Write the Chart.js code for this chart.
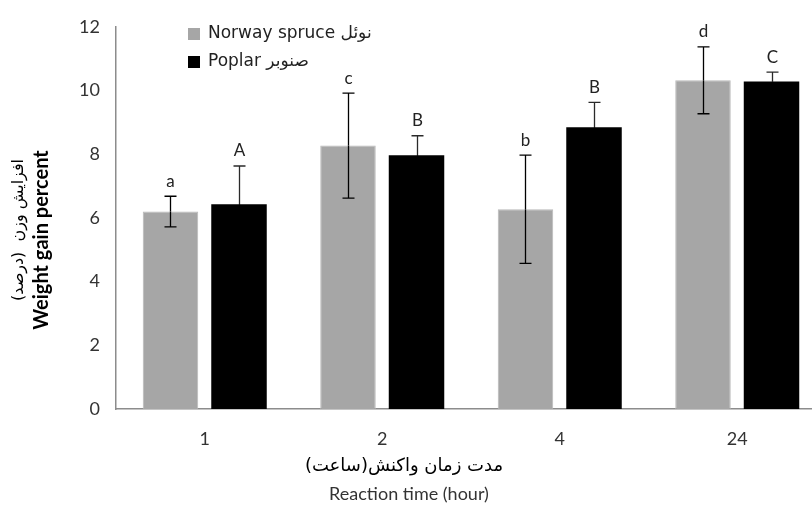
<!DOCTYPE html>
<html>
<head>
<meta charset="utf-8">
<script src="https://cdn.jsdelivr.net/npm/chart.js@4"></script>
<style>
  html, body { margin: 0; padding: 0; background: #fff; overflow: hidden; }
  canvas { display: block; }
</style>
</head>
<body>
<canvas id="c" width="830" height="507"></canvas>
<script>
const categories = ['1', '2', '4', '24'];
const seriesNames = ['Norway spruce نوئل', 'Poplar صنوبر'];
const spruceValues = [6.20, 8.27, 6.27, 10.32];
const spruceErrors = [0.48, 1.65, 1.70, 1.05];
const spruceLetters = ['a', 'c', 'b', 'd'];
const poplarValues = [6.43, 7.97, 8.85, 10.28];
const poplarErrors = [1.20, 0.61, 0.78, 0.30];
const poplarLetters = ['A', 'B', 'B', 'C'];
const yTicks = [0, 2, 4, 6, 8, 10, 12];

const errors = [spruceErrors, poplarErrors];
const letters = [spruceLetters, poplarLetters];
const errColors = ['#000000', '#2a2a2a'];

const MAIN_FONT = 'Lato, "Open Sans", sans-serif';

const overlay = {
  id: 'overlay',
  afterDatasetsDraw(chart) {
    const ctx = chart.ctx;
    const y = chart.scales.y;
    chart.data.datasets.forEach((ds, di) => {
      const meta = chart.getDatasetMeta(di);
      meta.data.forEach((bar, i) => {
        const v = ds.data[i], e = errors[di][i];
        const top = y.getPixelForValue(v + e);
        const mid = y.getPixelForValue(v);
        const bot = y.getPixelForValue(v - e);
        const x = Math.round(bar.x) + 0.5;
        ctx.save();
        ctx.lineWidth = 1.3;
        // upper half
        ctx.strokeStyle = errColors[di];
        ctx.beginPath();
        ctx.moveTo(x, top); ctx.lineTo(x, mid);
        ctx.moveTo(x - 6, top); ctx.lineTo(x + 6, top);
        ctx.stroke();
        // lower half (inside the bar)
        ctx.strokeStyle = '#000';
        ctx.beginPath();
        ctx.moveTo(x, mid); ctx.lineTo(x, bot);
        ctx.moveTo(x - 6, bot); ctx.lineTo(x + 6, bot);
        ctx.stroke();
        ctx.fillStyle = '#222';
        ctx.font = '17px ' + MAIN_FONT;
        ctx.textAlign = 'center';
        ctx.textBaseline = 'middle';
        ctx.fillText(letters[di][i], x, top - 15);
        ctx.restore();
      });
    });
  },
  afterDraw(chart) {
    const ctx = chart.ctx;
    ctx.save();
    // legend
    chart.data.datasets.forEach((ds, di) => {
      const cy = 34 + di * 28;
      ctx.fillStyle = ds.backgroundColor;
      ctx.fillRect(188, cy - 6, 12, 12);
      ctx.fillStyle = '#222';
      ctx.font = '17px "DejaVu Sans", sans-serif';
      ctx.textAlign = 'left';
      ctx.textBaseline = 'middle';
      ctx.fillText(ds.label, 208, cy);
    });
    // y title
    ctx.save();
    ctx.translate(42, 240);
    ctx.rotate(-Math.PI / 2);
    ctx.textAlign = 'center';
    ctx.textBaseline = 'middle';
    ctx.fillStyle = '#000';
    ctx.font = 'bold 20px ' + MAIN_FONT;
    ctx.fillText('Weight gain percent', 0, 0);
    ctx.restore();
    ctx.save();
    ctx.translate(19, 230);
    ctx.rotate(-Math.PI / 2);
    ctx.textAlign = 'center';
    ctx.textBaseline = 'middle';
    ctx.fillStyle = '#000';
    ctx.font = '16px "DejaVu Sans", sans-serif';
    ctx.fillText('افزایش وزن  (درصد)', 0, 0);
    ctx.restore();
    // x titles
    ctx.textAlign = 'center';
    ctx.textBaseline = 'middle';
    ctx.fillStyle = '#000';
    ctx.font = '18px "DejaVu Sans", sans-serif';
    ctx.fillText('مدت زمان واکنش(ساعت)', 404, 466);
    ctx.fillStyle = '#333';
    ctx.font = '18px ' + MAIN_FONT;
    ctx.fillText('Reaction time (hour)', 409, 494);
    ctx.restore();
  }
};

new Chart(document.getElementById('c'), {
  type: 'bar',
  data: {
    labels: categories,
    datasets: [
      { label: seriesNames[0], data: spruceValues, backgroundColor: '#a6a6a6', borderColor: '#b8b8b8', borderWidth: 1 },
      { label: seriesNames[1], data: poplarValues, backgroundColor: '#000000', borderColor: '#000000', borderWidth: 0 }
    ]
  },
  options: {
    responsive: false,
    animation: false,
    events: [],
    layout: { padding: { left: 0, right: 4, top: 25, bottom: 0 } },
    datasets: { bar: { categoryPercentage: 0.772, barPercentage: 0.81 } },
    plugins: { legend: { display: false }, tooltip: { enabled: false } },
    scales: {
      x: {
        grid: { display: false, drawTicks: false },
        border: { color: '#8c8c8c', width: 1.5 },
        ticks: { font: { family: MAIN_FONT, size: 18 }, color: '#333', padding: 19 },
        afterFit(s) { s.height = 98; }
      },
      y: {
        min: 0, max: 12,
        afterBuildTicks(s) { s.ticks = yTicks.map(v => ({ value: v })); },
        grid: { display: false, drawTicks: false },
        border: { color: '#8c8c8c', width: 1.5 },
        ticks: { font: { family: MAIN_FONT, size: 18 }, color: '#333', padding: 16 },
        afterFit(s) { s.width = 116; }
      }
    }
  },
  plugins: [overlay]
});
</script>
</body>
</html>
